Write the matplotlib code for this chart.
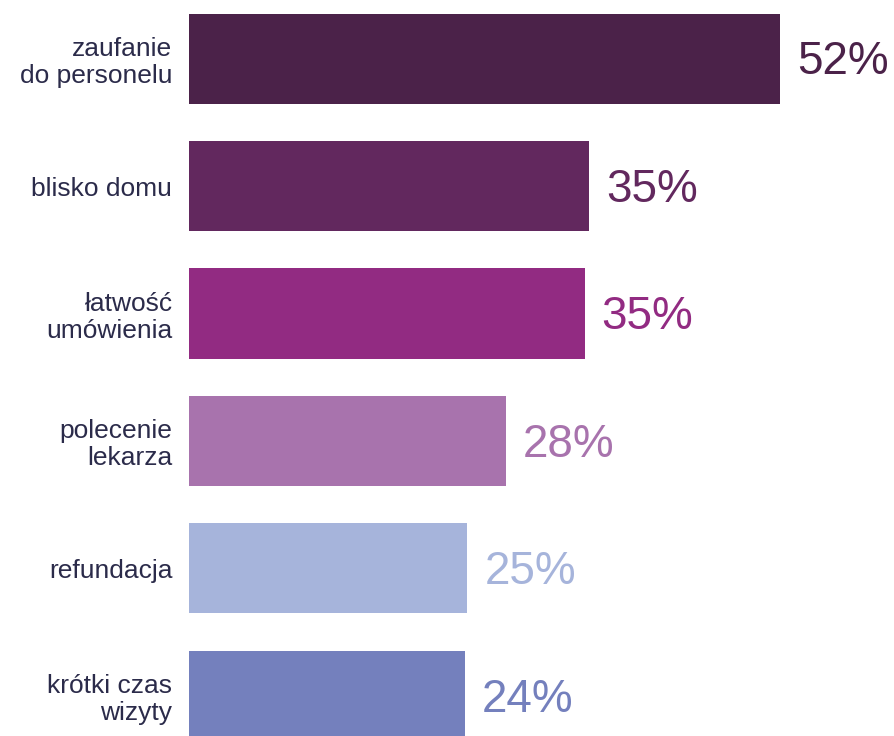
import matplotlib.pyplot as plt

plt.rcParams['font.family'] = ['Liberation Sans', 'DejaVu Sans']

# dane
categories = ["zaufanie\ndo personelu", "blisko domu", "łatwość\numówienia",
              "polecenie\nlekarza", "refundacja", "krótki czas\nwizyty"]
values = [52, 35.2, 34.8, 27.9, 24.5, 24.3]
value_labels = ["52%", "35%", "35%", "28%", "25%", "24%"]
colors = ["#4b2249", "#62285e", "#922b82", "#a873ad", "#a6b4db", "#7480bd"]

fig = plt.figure(figsize=(8.95, 7.36), dpi=100)
ax = fig.add_axes([189 / 895, 0, 1 - 189 / 895, 1])

ypos = list(range(len(categories)))
ax.barh(ypos, values, height=0.706, color=colors)

for y, v, lab, c in zip(ypos, values, value_labels, colors):
    ax.text(v + 1.5, y + 0.03, lab, color=c, fontsize=33, va='center', ha='left')

ax.set_yticks(ypos)
ax.set_yticklabels(categories, fontsize=19, color="#2b2b4a", linespacing=1.15)
ax.tick_params(axis='y', length=0, pad=12)
ax.set_xticks([])

ax.set_xlim(0, (895 - 189) / 11.365)
ax.set_ylim(5.314, -0.459)
for s in ax.spines.values():
    s.set_visible(False)

fig.savefig("out.png", dpi=100)
